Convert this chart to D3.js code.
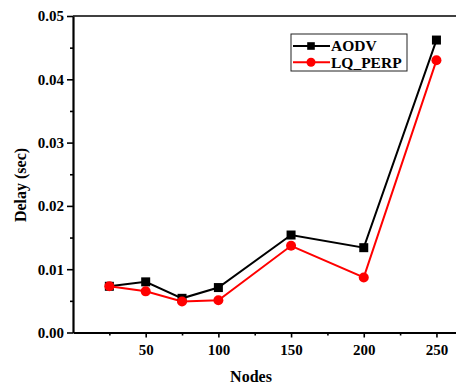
<!DOCTYPE html>
<html>
<head>
<meta charset="utf-8">
<script src="https://cdn.jsdelivr.net/npm/d3@7"></script>
<style>
  html, body { margin: 0; padding: 0; background: #fff; }
  svg { display: block; }
  text { font-family: "Liberation Serif", "Times New Roman", serif; font-weight: bold; fill: #000; }
</style>
</head>
<body>
<svg id="chart" width="456" height="388"></svg>
<script>
// Average end-to-end delay versus number of nodes
const nodes = [25, 50, 75, 100, 150, 200, 250];
const aodv = [0.0073, 0.0080, 0.0054, 0.0071, 0.0154, 0.0134, 0.0462];
const lqPerp = [0.0073, 0.0065, 0.0049, 0.0051, 0.0137, 0.0087, 0.0430];
const seriesNames = ["AODV", "LQ_PERP"];
const seriesColors = ["#000000", "#ff0000"];
const xMajorTicks = [50, 100, 150, 200, 250];
const xMinorTicks = [25, 75, 125, 175, 225];
const yMajorTicks = [0, 0.01, 0.02, 0.03, 0.04, 0.05];
const yMinorTicks = [0.005, 0.015, 0.025, 0.035, 0.045];

const FONT = '"Liberation Serif", "Times New Roman", serif';
const svg = d3.select("#chart");
const W = 456;

const x = d3.scaleLinear().domain([0, 264]).range([73, 456.8]);
const y = d3.scaleLinear().domain([0, 0.05]).range([332.5, 16]);

// Top frame line
svg.append("line")
  .attr("x1", x(0)).attr("x2", W)
  .attr("y1", y(0.05)).attr("y2", y(0.05))
  .attr("stroke", "#000").attr("stroke-width", 1.5);

// X axis
const gx = svg.append("g").attr("transform", `translate(0,${y(0)})`);
gx.call(d3.axisBottom(x).tickValues(xMajorTicks).tickSize(5).tickPadding(7).tickSizeOuter(0));
gx.append("g").call(d3.axisBottom(x).tickValues(xMinorTicks).tickSize(3).tickFormat(""))
  .select(".domain").remove();
gx.attr("font-family", FONT);
gx.selectAll(".domain").attr("stroke-width", 2.2);
gx.selectAll(".tick line").attr("stroke-width", 1.6);
gx.selectAll(".tick text").style("font-size", "15px").style("font-family", FONT).style("font-weight", "bold");

// Y axis
const gy = svg.append("g").attr("transform", `translate(${x(0)},0)`);
gy.call(d3.axisLeft(y).tickValues(yMajorTicks).tickFormat(d3.format(".2f")).tickSize(6).tickPadding(3).tickSizeOuter(0));
gy.append("g").call(d3.axisLeft(y).tickValues(yMinorTicks).tickSize(3).tickFormat(""))
  .select(".domain").remove();
gy.attr("font-family", FONT);
gy.selectAll(".domain").attr("stroke-width", 2.2);
gy.selectAll(".tick line").attr("stroke-width", 1.6);
gy.selectAll(".tick text").style("font-size", "15px").style("font-family", FONT).style("font-weight", "bold");

// Axis titles
svg.append("text")
  .attr("x", 251).attr("y", 382)
  .attr("text-anchor", "middle")
  .style("font-size", "16px")
  .text("Nodes");
svg.append("text")
  .attr("transform", "translate(26,185) rotate(-90)")
  .attr("text-anchor", "middle")
  .style("font-size", "16px")
  .text("Delay (sec)");

// Series
const series = [aodv, lqPerp];
const line = d3.line().x((d, i) => x(nodes[i])).y(d => y(d));

series.forEach((vals, s) => {
  svg.append("path")
    .datum(vals)
    .attr("d", line)
    .attr("fill", "none")
    .attr("stroke", seriesColors[s])
    .attr("stroke-width", 2);
});

// AODV square markers
svg.selectAll("rect.aodv").data(aodv).enter().append("rect")
  .attr("class", "aodv")
  .attr("x", (d, i) => x(nodes[i]) - 4.5)
  .attr("y", d => y(d) - 4.5)
  .attr("width", 9).attr("height", 9)
  .attr("fill", seriesColors[0]);

// LQ_PERP circle markers
svg.selectAll("circle.lq").data(lqPerp).enter().append("circle")
  .attr("class", "lq")
  .attr("cx", (d, i) => x(nodes[i]))
  .attr("cy", d => y(d))
  .attr("r", 5)
  .attr("fill", seriesColors[1]);

// Legend
const lg = svg.append("g");
lg.append("rect")
  .attr("x", 291).attr("y", 34)
  .attr("width", 116).attr("height", 37)
  .attr("fill", "#fff").attr("stroke", "#222").attr("stroke-width", 1);

seriesNames.forEach((name, i) => {
  const cy = 46 + i * 16.3;
  lg.append("line")
    .attr("x1", 293).attr("x2", 330)
    .attr("y1", cy).attr("y2", cy)
    .attr("stroke", seriesColors[i]).attr("stroke-width", 2);
  if (i === 0) {
    lg.append("rect")
      .attr("x", 311 - 3.8).attr("y", cy - 3.8)
      .attr("width", 7.6).attr("height", 7.6)
      .attr("fill", seriesColors[i]);
  } else {
    lg.append("circle")
      .attr("cx", 311).attr("cy", cy).attr("r", 4.5)
      .attr("fill", seriesColors[i]);
  }
  lg.append("text")
    .attr("x", 331).attr("y", cy + 5.3)
    .style("font-size", "15.5px")
    .text(name);
});
</script>
</body>
</html>
